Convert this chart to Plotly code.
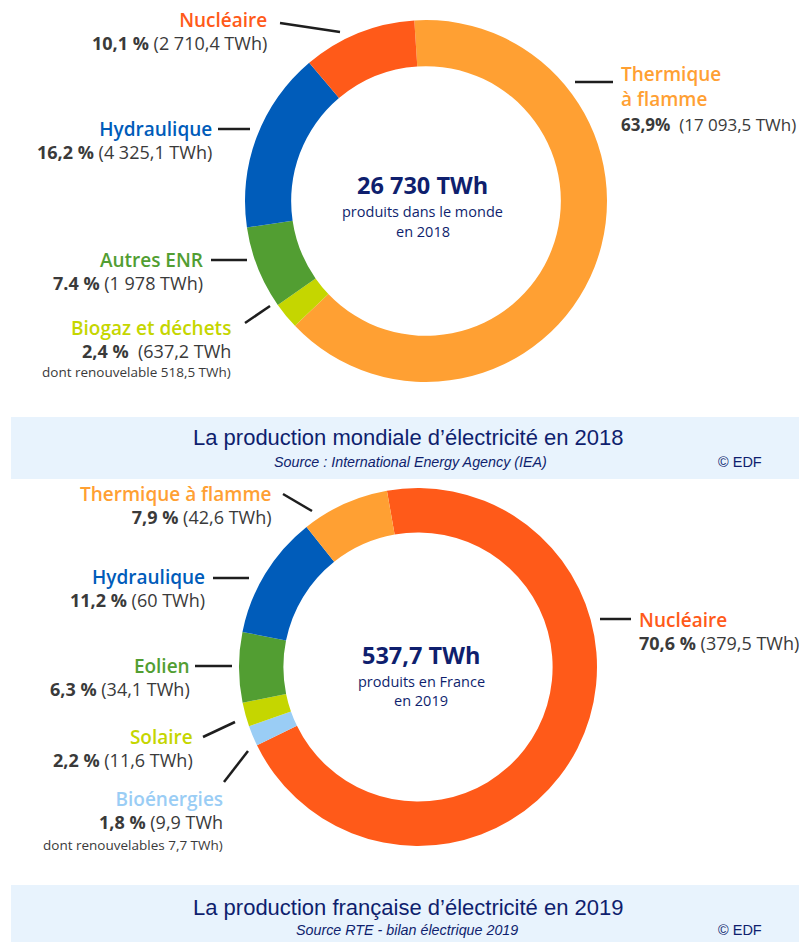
import plotly.graph_objects as go

# page body has an 8px default margin: the figure is drawn 8px right/down
OX, OY = 8, 8
W, H = 807 - OX, 942 - OY

# ---------------- DATA ----------------
world_labels = ["Thermique à flamme", "Biogaz et déchets", "Autres ENR", "Hydraulique", "Nucléaire"]
world_twh = [17093.5, 637.2, 1978.0, 4325.1, 2710.4]
world_pct_text = ["63,9%&nbsp;", "2,4 %&nbsp;", "7.4 %", "16,2 %", "10,1 %"]
world_val_text = ["(17 093,5 TWh)", "(637,2 TWh", "(1 978 TWh)", "(4 325,1 TWh)", "(2 710,4 TWh)"]
world_notes = ["", "dont renouvelable 518,5 TWh)", "", "", ""]
world_total = ["26 730 TWh", "produits dans le monde", "en 2018"]
world_title = "La production mondiale d’électricité en 2018"
world_source = "Source : International Energy Agency (IEA)"

france_labels = ["Nucléaire", "Bioénergies", "Solaire", "Eolien", "Hydraulique", "Thermique à flamme"]
france_twh = [379.5, 9.9, 11.6, 34.1, 60.0, 42.6]
france_pct_text = ["70,6 %", "1,8 %", "2,2 %", "6,3 %", "11,2 %", "7,9 %"]
france_val_text = ["(379,5 TWh)", "(9,9 TWh", "(11,6 TWh)", "(34,1 TWh)", "(60 TWh)", "(42,6 TWh)"]
france_notes = ["", "dont renouvelables 7,7 TWh)", "", "", "", ""]
france_total = ["537,7 TWh", "produits en France", "en 2019"]
france_title = "La production française d’électricité en 2019"
france_source = "Source RTE - bilan électrique 2019"
copyright_text = "© EDF"

# ---------------- STYLE ----------------
COLORS = {
    "Nucléaire": "#FF5A19",
    "Thermique à flamme": "#FFA033",
    "Hydraulique": "#005CBA",
    "Autres ENR": "#529E32",
    "Eolien": "#529E32",
    "Biogaz et déchets": "#C5D600",
    "Solaire": "#C5D600",
    "Bioénergies": "#9ACDF5",
}
NAVY = "#0F1F6E"
VALC = "#3A3A3A"
LABEL_FONT = "Open Sans"
TITLE_FONT = "Liberation Sans"
NAME_SIZE = 19
VAL_SIZE = 18
NOTE_SIZE = 13.5
SPACING = 23


def px(x):
    return (x - OX) / W


def py(y):
    return 1 - (y - OY) / H


def donut(labels, values, cx, cy, r, hole, rotation):
    return go.Pie(
        labels=labels, values=values, sort=False, direction="clockwise",
        rotation=rotation, hole=hole, textinfo="none", hoverinfo="label+value",
        marker=dict(colors=[COLORS[l] for l in labels], line=dict(width=0)),
        domain=dict(x=[px(cx - r), px(cx + r)], y=[py(cy + r), py(cy - r)]),
        showlegend=False,
    )


fig = go.Figure()
fig.add_trace(donut(world_labels, world_twh, 426, 201, 181, 0.745, -3.7))
fig.add_trace(donut(france_labels, france_twh, 418, 667, 179, 0.752, -10))

annotations = []
shapes = []


def txt(x, y, text, size, color, anchor="right", weight="normal", family=LABEL_FONT, style="normal"):
    annotations.append(dict(
        x=px(x), y=py(y), xref="paper", yref="paper", text=text, showarrow=False,
        xanchor=anchor, yanchor="middle", align=anchor if anchor != "center" else "center",
        font=dict(size=size, color=color, family=family, weight=weight, style=style),
        borderpad=0,
    ))


def line(x0, y0, x1, y1):
    shapes.append(dict(type="line", xref="paper", yref="paper",
                       x0=px(x0), y0=py(y0), x1=px(x1), y1=py(y1),
                       line=dict(color="#1E1E1E", width=2.5)))


# label placement: (index, anchor, x, y of block centre, value size, line spacing, note_y, leader line)
world_layout = [
    (0, "left", 620, 98, 17, 25, None, (575, 82, 613, 82)),
    (1, "right", 232, 338.5, VAL_SIZE, SPACING, 372, (245, 323, 270, 306)),
    (2, "right", 204, 270.5, VAL_SIZE, SPACING, None, (211, 260, 247, 260)),
    (3, "right", 213, 139.5, VAL_SIZE, SPACING, None, (218, 129, 250, 129)),
    (4, "right", 268, 31.5, VAL_SIZE, SPACING, None, (280, 23, 340, 32)),
]
world_name_lines = {0: ["Thermique", "à flamme"]}

france_layout = [
    (0, "left", 638, 630.5, VAL_SIZE, SPACING, None, (600, 619, 631, 619)),
    (1, "right", 224, 810, VAL_SIZE, SPACING, 845, (224, 782, 248, 751)),
    (2, "right", 194, 748, VAL_SIZE, SPACING, None, (203, 737, 235, 722)),
    (3, "right", 191, 676.5, VAL_SIZE, SPACING, None, (195, 666, 232, 666)),
    (4, "right", 206, 588, VAL_SIZE, SPACING, None, (213, 578, 249, 578)),
    (5, "right", 273, 505, VAL_SIZE, SPACING, None, (283, 494, 312, 511)),
]


def add_labels(labels, pcts, vals, notes, lay, name_lines):
    for i, anchor, x, yc, vsize, spacing, ny, ln in lay:
        lines = name_lines.get(i, [labels[i]])
        col = COLORS[labels[i]]
        parts = [f'<span style="color:{col};font-size:{NAME_SIZE}px;font-weight:600">{t}</span>'
                 for t in lines]
        parts.append(f'<span style="font-size:{vsize}px"><b>{pcts[i]}</b> {vals[i]}</span>')
        base = spacing / 1.3
        txt(x, yc, "<br>".join(parts), base, VALC, anchor)
        if ny is not None:
            txt(x, ny, notes[i], NOTE_SIZE, VALC, anchor)
        line(*ln)


add_labels(world_labels, world_pct_text, world_val_text, world_notes, world_layout, world_name_lines)
add_labels(france_labels, france_pct_text, france_val_text, france_notes, france_layout, {})

# centre texts
txt(423, 185, f"<b>{world_total[0]}</b>", 23.5, NAVY, "center")
txt(423, 212, world_total[1], 14.5, NAVY, "center")
txt(423, 231, world_total[2], 14.5, NAVY, "center")
txt(421, 655, f"<b>{france_total[0]}</b>", 23.5, NAVY, "center")
txt(421, 681, france_total[1], 14.5, NAVY, "center")
txt(421, 700, france_total[2], 14.5, NAVY, "center")

# title bands
for y0, y1 in [(417, 479), (885, 942)]:
    shapes.append(dict(type="rect", xref="paper", yref="paper", x0=px(11), x1=px(807),
                       y0=py(y1), y1=py(y0), fillcolor="#E8F3FD", line=dict(width=0), layer="below"))

txt(408, 438, world_title, 22, NAVY, "center", family=TITLE_FONT)
txt(410, 462, world_source, 14.3, NAVY, "center", family=TITLE_FONT, style="italic")
txt(740, 462, copyright_text, 14.5, NAVY, "center", family=TITLE_FONT)
txt(408, 907, france_title, 22, NAVY, "center", family=TITLE_FONT)
txt(407, 930, france_source, 14.3, NAVY, "center", family=TITLE_FONT, style="italic")
txt(740, 930, copyright_text, 14.5, NAVY, "center", family=TITLE_FONT)

fig.update_layout(
    width=W, height=H, margin=dict(l=0, r=0, t=0, b=0),
    paper_bgcolor="white", plot_bgcolor="white",
    annotations=annotations, shapes=shapes,
)

fig.write_html("out.html")
